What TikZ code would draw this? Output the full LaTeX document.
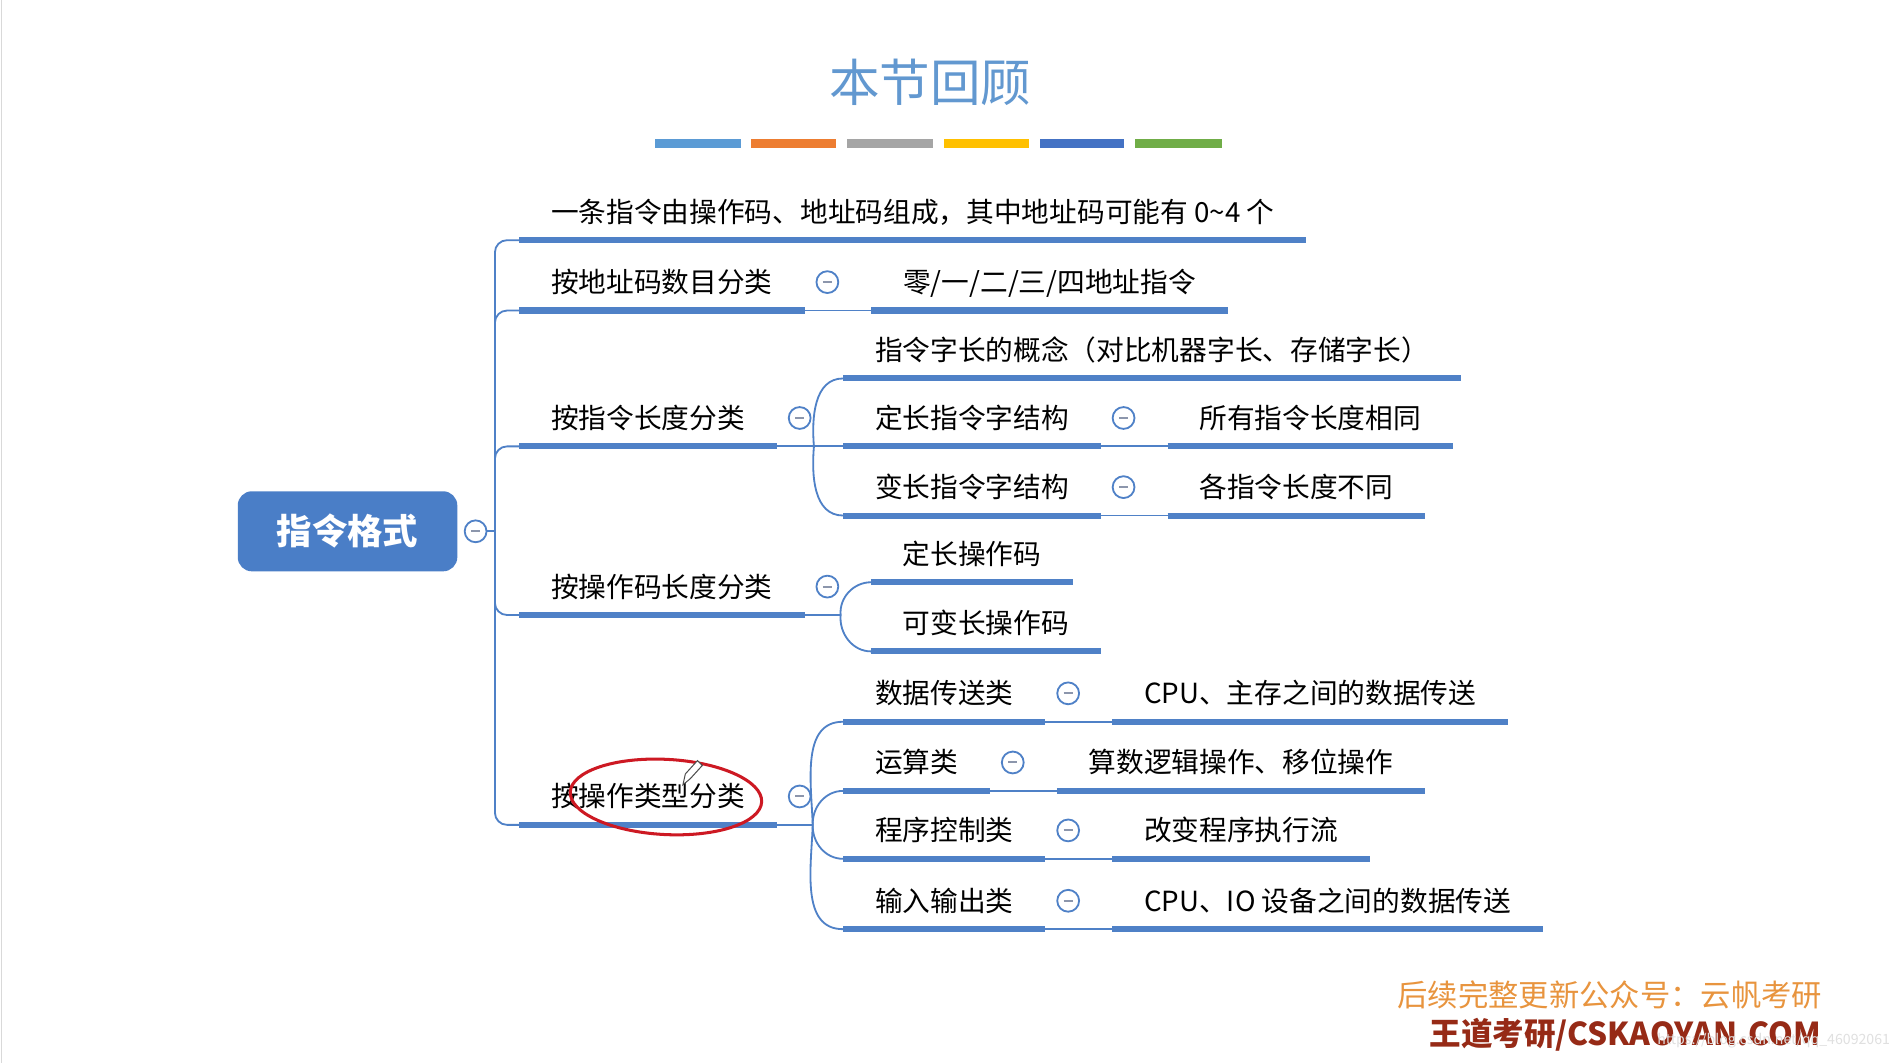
\documentclass[tikz,border=0pt]{standalone}
\usepackage{fontspec}
\setmainfont{Noto Sans CJK SC}
\usepackage{tikz}
\usetikzlibrary{positioning}
\usepackage{xcolor}
\definecolor{mapblue}{RGB}{79,129,199}
\definecolor{rootblue}{RGB}{74,126,199}
\definecolor{titleblue}{RGB}{98,152,208}
\definecolor{foldgray}{RGB}{140,150,172}
\definecolor{barblue}{RGB}{91,155,213}
\definecolor{barorange}{RGB}{237,125,49}
\definecolor{bargray}{RGB}{165,165,165}
\definecolor{baryellow}{RGB}{255,192,0}
\definecolor{bardark}{RGB}{68,114,196}
\definecolor{bargreen}{RGB}{112,173,71}
\definecolor{markred}{RGB}{205,25,35}
\definecolor{noteorange}{RGB}{232,148,62}
\definecolor{brandred}{RGB}{150,42,22}

\begin{document}
\begin{tikzpicture}[
    x=0.6pt, y=-0.6pt,
    root/.style={rectangle, rounded corners=7pt, fill=rootblue, text=white, minimum width=108.6pt, minimum height=39.6pt, font=\bfseries\fontsize{17.5pt}{20pt}\selectfont},
    topic/.style={anchor=south west, inner xsep=15.6pt, inner ysep=7pt, text height=12pt, text depth=1.7pt, font=\fontsize{13.7pt}{16pt}\selectfont,
        append after command={(\tikzlastnode.south west) edge[mapblue, line width=3pt] (\tikzlastnode.south east)}},
    fold/.style={circle, draw=mapblue, fill=white, line width=0.9pt, minimum size=10.8pt, inner sep=0pt,
        path picture={\draw[foldgray, line width=1pt] ([xshift=-2.2pt]path picture bounding box.center) -- ([xshift=2.2pt]path picture bounding box.center);}},
    link/.style={mapblue, line width=0.9pt}
]
    \fill[white] (0,0) rectangle (1568,876);
    \useasboundingbox (0,0) rectangle (1568,876);
    \draw[black!15] (1,0) -- (1,876);

    % 标题
    \node[text=titleblue, font=\fontsize{25pt}{30pt}\selectfont] (title) at (767,68) {本节回顾};
    \fill[barblue] (540,115) rectangle (611,122);
    \fill[barorange] (619,115) rectangle (689,122);
    \fill[bargray] (698,115) rectangle (769,122);
    \fill[baryellow] (778,115) rectangle (848,122);
    \fill[bardark] (857,115) rectangle (927,122);
    \fill[bargreen] (936,115) rectangle (1007,122);

    % 中心主题
    \node[root] (root) at (286.5,438) {指令格式};
    \node[fold, right=3pt of root] (f0) {};
    \coordinate (trunk) at (408,438);

    % 一级分支
    \node[topic] (a1) at (428,198) {一条指令由操作码、地址码组成，其中地址码可能有 0\textasciitilde4 个};
    \node[topic] (a2) at (428,256) {按地址码数目分类};
    \node[topic] (a3) at (428,368) {按指令长度分类};
    \node[topic] (a4) at (428,507) {按操作码长度分类};
    \node[topic] (a5) at (428,680) {按操作类型分类};
    \node[fold, right=5.4pt of a2] (f2) {};
    \node[fold, right=5.4pt of a3] (f3) {};
    \node[fold, right=5.4pt of a4] (f4) {};
    \node[fold, right=5.4pt of a5] (f5) {};

    % 二级分支
    \node[topic, right=33pt of a2] (b21) {零/一/二/三/四地址指令};
    \node[topic] (b31) at (695,312) {指令字长的概念（对比机器字长、存储字长）};
    \node[topic] (b32) at (695,368) {定长指令字结构};
    \node[topic] (b33) at (695,425) {变长指令字结构};
    \node[topic] (b41) at (718,480) {定长操作码};
    \node[topic] (b42) at (718,537) {可变长操作码};
    \node[topic] (b51) at (695,595) {数据传送类};
    \node[topic] (b52) at (695,652) {运算类};
    \node[topic] (b53) at (695,708) {程序控制类};
    \node[topic] (b54) at (695,766) {输入输出类};
    \node[fold, right=5.4pt of b32] (g32) {};
    \node[fold, right=5.4pt of b33] (g33) {};
    \node[fold, right=5.4pt of b51] (g51) {};
    \node[fold, right=5.4pt of b52] (g52) {};
    \node[fold, right=5.4pt of b53] (g53) {};
    \node[fold, right=5.4pt of b54] (g54) {};
    \coordinate (j3) at (671,368);
    \coordinate (j4) at (693,507);
    \coordinate (j5) at (670,680);

    % 三级分支
    \node[topic, right=33pt of b32] (c32) {所有指令长度相同};
    \node[topic, right=33pt of b33] (c33) {各指令长度不同};
    \node[topic, right=33pt of b51] (c51) {CPU、主存之间的数据传送};
    \node[topic, right=33pt of b52] (c52) {算数逻辑操作、移位操作};
    \node[topic, right=33pt of b53] (c53) {改变程序执行流};
    \node[topic, right=33pt of b54] (c54) {CPU、IO 设备之间的数据传送};

    % 连线
    \draw[link] (f0) -- (trunk);
    \draw[link, rounded corners=6pt] (trunk) |- (a1.south west);
    \draw[link, rounded corners=6pt] (trunk) |- (a2.south west);
    \draw[link, rounded corners=6pt] (trunk) |- (a3.south west);
    \draw[link, rounded corners=6pt] (trunk) |- (a4.south west);
    \draw[link, rounded corners=6pt] (trunk) |- (a5.south west);
    \draw[link] (a2.south east) -- (b21.south west);
    \draw[link] (a3.south east) -- (j3) -- (b32.south west);
    \draw[link] (j3) to[out=95, in=180] (b31.south west);
    \draw[link] (j3) to[out=-95, in=180] (b33.south west);
    \draw[link] (a4.south east) -- (j4);
    \draw[link] (j4) to[out=95, in=180] (b41.south west);
    \draw[link] (j4) to[out=-95, in=180] (b42.south west);
    \draw[link] (a5.south east) -- (j5);
    \draw[link] (j5) to[out=92, in=180] (b51.south west);
    \draw[link] (j5) to[out=92, in=180] (b52.south west);
    \draw[link] (j5) to[out=-92, in=180] (b53.south west);
    \draw[link] (j5) to[out=-92, in=180] (b54.south west);
    \draw[link] (b32.south east) -- (c32.south west);
    \draw[link] (b33.south east) -- (c33.south west);
    \draw[link] (b51.south east) -- (c51.south west);
    \draw[link] (b52.south east) -- (c52.south west);
    \draw[link] (b53.south east) -- (c53.south west);
    \draw[link] (b54.south east) -- (c54.south west);

    % 手绘标记
    \draw[markred, line width=1.5pt, rotate around={-3:(549,657)}] (549,657) ellipse [x radius=79, y radius=31];
    \draw[black!70, line width=0.5pt, fill=white] (563,647) -- (565,638) -- (575,627) -- (579,631) -- (569,642) -- cycle;

    % 落款
    \node[anchor=east, text=noteorange, font=\fontsize{15pt}{18pt}\selectfont] (note) at (1508,820) {后续完整更新公众号：云帆考研};
    \node[anchor=east, text=brandred, font=\bfseries\fontsize{15.6pt}{18pt}\selectfont] (brand) at (1507,853) {王道考研/CSKAOYAN.COM};
    \node[anchor=east, text=black!12, font=\fontsize{7pt}{8pt}\selectfont] (mark) at (1564,858) {https://blog.csdn.net/qq\_46092061};
\end{tikzpicture}
\end{document}
